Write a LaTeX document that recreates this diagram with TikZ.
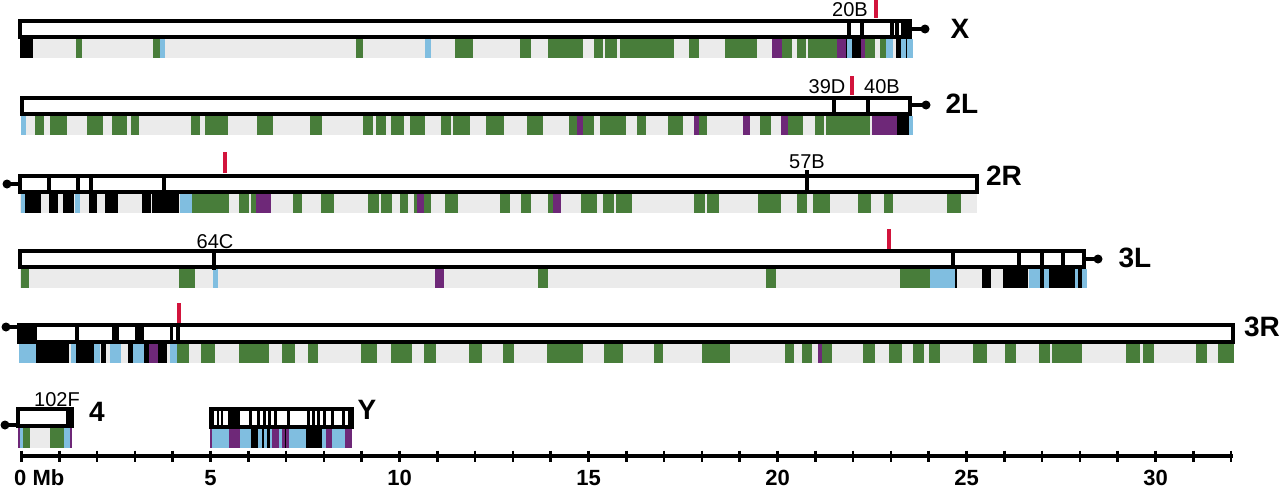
\documentclass[tikz,border=0pt]{standalone}
\usepackage{fontspec}
\setmainfont{Liberation Sans}
\definecolor{cg}{RGB}{72,125,58}
\definecolor{cy}{RGB}{235,235,235}
\definecolor{cb}{RGB}{128,190,224}
\definecolor{cp}{RGB}{110,40,120}
\definecolor{cr}{RGB}{210,20,60}
\newcommand\mybands[3]{\foreach \a/\b/\c in {#3} {\fill[\c] (\a,#1) rectangle (\b,#2);}}
\begin{document}
\begin{tikzpicture}[x=1pt,y=-1pt,
  box/.style={draw=black,line width=3.5pt,fill=white},
  divl/.style={line width=3.5pt},
  redm/.style={draw=cr,line width=3.5pt},
  cen/.style={line width=3.5pt},
  chrlab/.style={font=\fontsize{28}{28}\selectfont\bfseries,inner sep=0pt},
  cytlab/.style={font=\fontsize{20}{20}\selectfont,inner sep=0pt},
  axlab/.style={font=\fontsize{22}{22}\selectfont\bfseries,inner sep=0pt}]
\useasboundingbox (0,0) rectangle (1280,488);

% ---------------- X ----------------
\fill[cy] (20,39) rectangle (913,58);
\mybands{39}{58}{20/33/black, 76/82/cg, 153/160/cg, 160/165/cb, 356/363/cg, 425/431/cb, 455/473/cg, 520/531/cg, 548/583/cg, 594/603/cg, 605/617/cg, 620/674/cg, 689/699/cg, 725/757/cg, 772/782/cp, 782/792/cg, 797/806/cg, 808/837/cg, 837/846/cp, 846/847/black, 847/852/cb, 852/861/black, 861/865/cp, 865/875/cg, 880/886/cg, 886/893/cb, 896/901/black, 901/913/cb, 905.5/906.5/black}
\draw[box] (20,21) rectangle (910,37);
\foreach \x in {849,862,892,897,903,907} \draw[divl] (\x,21) -- (\x,37);
\draw[cen] (910,29) -- (925,29);
\fill (925,29) circle (4.5);
\draw[redm] (876,0) -- (876,18);
\node[cytlab] (l20B) at (850,10) {20B};
\node[chrlab] (lX) at (960,29) {X};

% ---------------- 2L ----------------
\fill[cy] (22,116) rectangle (913,135);
\mybands{116}{135}{21/26/cb, 35/44/cg, 50/67/cg, 87/103/cg, 112/127/cg, 131/139/cg, 191/200/cg, 205/228/cg, 257/273/cg, 310/322/cg, 363/373/cg, 376/386/cg, 391/404/cg, 410/425/cg, 441/451/cg, 453/470/cg, 486/504/cg, 527/543/cg, 569/577/cg, 577/583/cp, 583/594/cg, 600/626/cg, 637/646/cg, 668/683/cg, 694/699/cp, 699/707/cg, 743/750/cp, 760/771/cg, 781/788/cp, 788/803/cg, 815/824/cg, 826/870/cg, 872/897/cp, 897/909/black, 909/913/cb}
\draw[box] (22,98) rectangle (910,114);
\foreach \x in {834,868} \draw[divl] (\x,96) -- (\x,114);
\draw[cen] (910,105) -- (926,105);
\fill (926,105) circle (4.5);
\draw[redm] (852,76) -- (852,95);
\node[cytlab] (l39D) at (827,87) {39D};
\node[cytlab] (l40B) at (882,87) {40B};
\node[chrlab] (l2L) at (962,104) {2L};

% ---------------- 2R ----------------
\fill[cy] (20,194) rectangle (977,213);
\mybands{194}{213}{21/25/cb, 25/41/black, 49/58/black, 63/74/black, 75/80/cb, 89/97/black, 105/118/black, 142/151/black, 152/179/black, 180/192/cb, 192/229/cg, 239/249/cg, 251/256/cg, 256/271/cp, 293/302/cg, 321/334/cg, 368/379/cg, 381/392/cg, 400/408/cg, 414/417/cg, 417/424/cp, 424/431/cg, 445/458/cg, 500/510/cg, 521/531/cg, 548/553/cg, 553/561/cp, 581/597/cg, 603/614/cg, 616/632/cg, 694/705/cg, 707/719/cg, 758/781/cg, 797/807/cg, 813/830/cg, 858/871/cg, 884/893/cg, 947/961/cg}
\draw[box] (20,176) rectangle (977,192);
\foreach \x in {49,78,91,164} \draw[divl] (\x,176) -- (\x,192);
\draw[divl] (807,170) -- (807,193);
\draw[cen] (20,184) -- (7,184);
\fill (7,184) circle (4.5);
\draw[redm] (225,152) -- (225,173);
\node[cytlab] (l57B) at (807,162) {57B};
\node[chrlab] (l2R) at (1004,176) {2R};

% ---------------- 3L ----------------
\fill[cy] (20,269) rectangle (1087,288);
\mybands{269}{288}{21/29/cg, 179/195/cg, 213/218/cb, 435/444/cp, 538/548/cg, 766/776/cg, 900/930/cg, 930/955/cb, 955/957/black, 982/991/black, 1003/1028/black, 1029/1040/cb, 1040/1044/black, 1044/1049/cb, 1049/1075/black, 1075/1078/cb, 1078/1082/black, 1082/1087/cb}
\draw[box] (20,251) rectangle (1084,267);
\draw[divl] (214,249) -- (214,270);
\foreach \x in {953,1019,1042,1063} \draw[divl] (\x,251) -- (\x,268);
\draw[cen] (1084,259) -- (1098,259);
\fill (1098,259) circle (4.5);
\draw[redm] (889,229) -- (889,249);
\node[cytlab] (l64C) at (215,242) {64C};
\node[chrlab] (l3L) at (1135,258) {3L};

% ---------------- 3R ----------------
\fill[cy] (19,344) rectangle (1234,363);
\mybands{344}{363}{19/36/cb, 36/69/black, 71/76/cb, 76/94/black, 94/100/cb, 101/106/black, 110/121/cb, 128/133/black, 133/144/cb, 144/149/black, 149/158/cp, 158/167/black, 170/177/cb, 177/189/cg, 201/215/cg, 239/269/cg, 282/295/cg, 308/318/cg, 361/377/cg, 391/412/cg, 424/436/cg, 469/482/cg, 503/514/cg, 547/583/cg, 604/623/cg, 654/663/cg, 702/730/cg, 785/794/cg, 802/812/cg, 818/822/cp, 822/832/cg, 863/875/cg, 889/902/cg, 913/924/cg, 929/940/cg, 973/987/cg, 1005/1016/cg, 1039/1050/cg, 1052/1082/cg, 1126/1140/cg, 1143/1154/cg, 1196/1207/cg, 1218/1234/cg}
\draw[box] (19,325) rectangle (1233,342);
\foreach \a/\b in {19/37,112/119,135/144} \fill (\a,325) rectangle (\b,342);
\foreach \x in {77,171.5,178} \draw[divl] (\x,325) -- (\x,342);
\draw[cen] (19,327) -- (6,327);
\fill (6,327) circle (4.5);
\draw[redm] (179,303) -- (179,323);
\node[chrlab] (l3R) at (1262,327) {3R};

% ---------------- 4 ----------------
\fill[cy] (18,428) rectangle (72,448);
\mybands{428}{448}{18/19.5/cp, 19.5/23/cb, 23/30/cg, 50/64/cg, 64/70/cb, 70/72/cp}
\draw[box] (18,409) rectangle (72,426);
\draw[divl] (68,409) -- (68,426);
\draw[cen] (18,425) -- (5,425);
\fill (5,425) circle (4.5);
\node[cytlab] (l102F) at (57,400) {102F};
\node[chrlab] (l4) at (97,412) {4};

% ---------------- Y ----------------
\mybands{429}{448}{210/212/cp, 212/229/cb, 229/240/cp, 240/251/cb, 251/258/black, 258/262/cb, 262/264/black, 264/267/cb, 267/270/black, 270/272/cb, 272/279/cp, 279/282/cb, 282/289/cp, 285/286/black, 289/306/cb, 306/322/black, 322/326/cb, 326/332/cp, 332/345/cb, 345/352/cp}
\draw[box] (211,409) rectangle (352,427);
\foreach \a/\b in {211/214, 217/219, 221/223, 228/240, 249/252, 257/260, 263/266, 268/271, 274/277, 287/290, 307/310, 312/315, 317/320, 323/326, 331/334, 342/345, 348/352} \fill (\a,409) rectangle (\b,427);
\node[chrlab] (lY) at (367,410) {Y};

% ---------------- axis ----------------
\draw[line width=3.5pt] (21.5,456) -- (1233,456);
\foreach \i in {0,...,32} \draw[line width=2.5pt] ({21.5+37.8*\i},450.5) -- ({21.5+37.8*\i},461.5);
\node[axlab,anchor=base west] (ax0) at (14,485) {0 Mb};
\foreach \n in {5,10,...,30} \node[axlab,anchor=base] (ax\n) at ({21.5+37.8*\n},485) {\n};
\end{tikzpicture}
\end{document}
